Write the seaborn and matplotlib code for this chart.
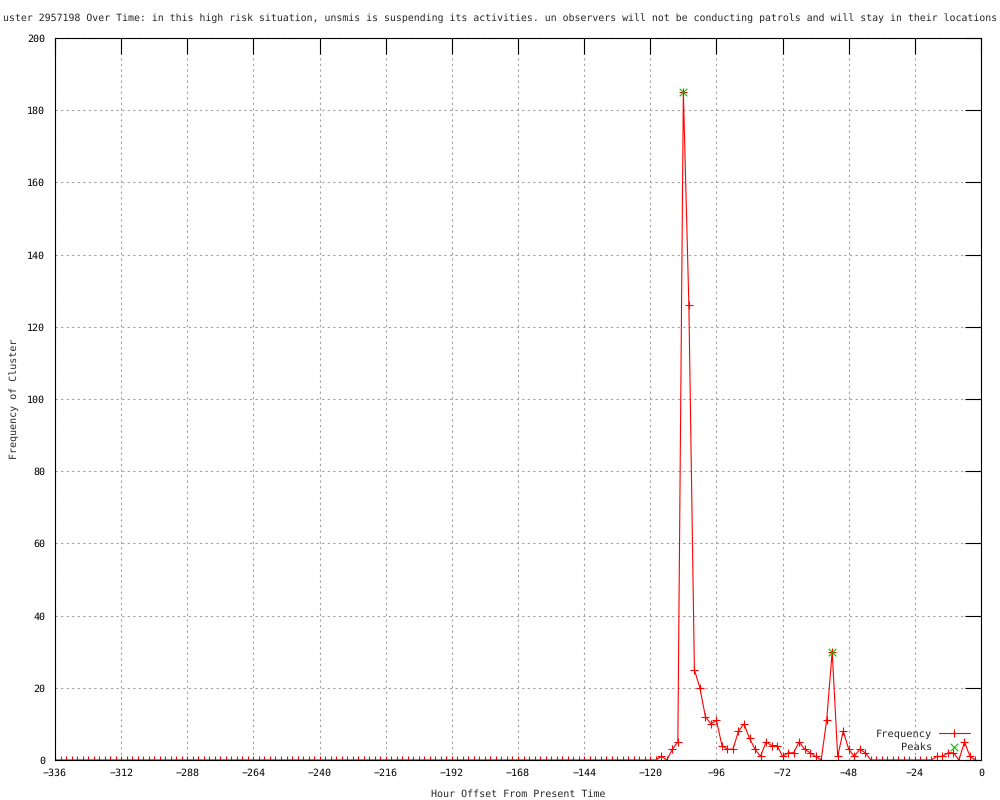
import matplotlib
matplotlib.use("Agg")
import matplotlib.pyplot as plt
import seaborn as sns

# Hourly bins (every 2 hours) from two weeks back up to the present
hours = list(range(-336, 0, 2))

freq = [
    0, 0, 0, 0, 0, 0, 0, 0, 0, 0, 0, 0,
    0, 0, 0, 0, 0, 0, 0, 0, 0, 0, 0, 0,
    0, 0, 0, 0, 0, 0, 0, 0, 0, 0, 0, 0,
    0, 0, 0, 0, 0, 0, 0, 0, 0, 0, 0, 0,
    0, 0, 0, 0, 0, 0, 0, 0, 0, 0, 0, 0,
    0, 0, 0, 0, 0, 0, 0, 0, 0, 0, 0, 0,
    0, 0, 0, 0, 0, 0, 0, 0, 0, 0, 0, 0,
    0, 0, 0, 0, 0, 0, 0, 0, 0, 0, 0, 0,
    0, 0, 0, 0, 0, 0, 0, 0, 0, 0, 0, 0,
    0, 0, 1, 0, 3, 5, 185, 126, 25, 20, 12, 10,
    11, 4, 3, 3, 8, 10, 6, 3, 1, 5, 4, 4,
    1, 2, 2, 5, 3, 2, 1, 0, 11, 30, 1, 8,
    3, 1, 3, 2, 0, 0, 0, 0, 0, 0, 0, 0,
    0, 0, 0, 0, 1, 1, 2, 2, 0, 5, 1, 0,
]

peak_hours = [-108, -54]
peak_values = [185, 30]

x_ticks = list(range(-336, 1, 24))
y_ticks = list(range(0, 201, 20))

# the title overflows the image in the original; only this part is visible
title = ("uster 2957198 Over Time: in this high risk situation, "
         "unsmis is suspending its activities. un observers will not be "
         "conducting patrols and will stay in their locations")

sns.set_style("white")
plt.rcParams['font.family'] = ['DejaVu Sans Mono']
plt.rcParams['text.hinting'] = 'none'

fig = plt.figure(figsize=(10, 8), dpi=100)
ax = fig.add_axes([0.055, 0.05, 0.926, 0.9025])

sns.lineplot(x=hours, y=freq, ax=ax, color='#ff0000', linewidth=0.8,
             marker='+', markersize=6, markeredgewidth=0.8,
             markeredgecolor='#ff0000', label='Frequency', zorder=2)
sns.scatterplot(x=peak_hours, y=peak_values, ax=ax, color='#00c000',
                marker='x', s=30, linewidth=0.8, label='Peaks', zorder=4)

ax.set_xlim(-336, 0)
ax.set_ylim(0, 200)
ax.set_xticks(x_ticks)
ax.set_yticks(y_ticks)
ax.grid(True, color='#a0a0a0', linestyle=(0, (2, 3)), linewidth=0.8)
ax.set_axisbelow(True)
ax.tick_params(direction='in', top=True, right=True, length=11.5, width=0.8,
               labelsize=7.2, colors='black')
ax.tick_params(axis='y', pad=7)
ax.tick_params(axis='x', pad=6)
for s in ax.spines.values():
    s.set_color('black')
    s.set_linewidth(0.8)
    s.set_zorder(3)

ax.set_xlabel('Hour Offset From Present Time', fontsize=7.2, labelpad=8)
ax.set_ylabel('Frequency of Cluster', fontsize=7.2, labelpad=6)

ax.legend(loc='lower right', bbox_to_anchor=(0.988, 0.011), frameon=False,
          markerfirst=False, fontsize=7.5, handlelength=3.0,
          handletextpad=0.6, borderaxespad=0, borderpad=0,
          labelspacing=0.3)

fig.text(0.997, 0.977, title, ha='right', va='center', fontsize=7.1)

fig.savefig('out.png', dpi=100)
